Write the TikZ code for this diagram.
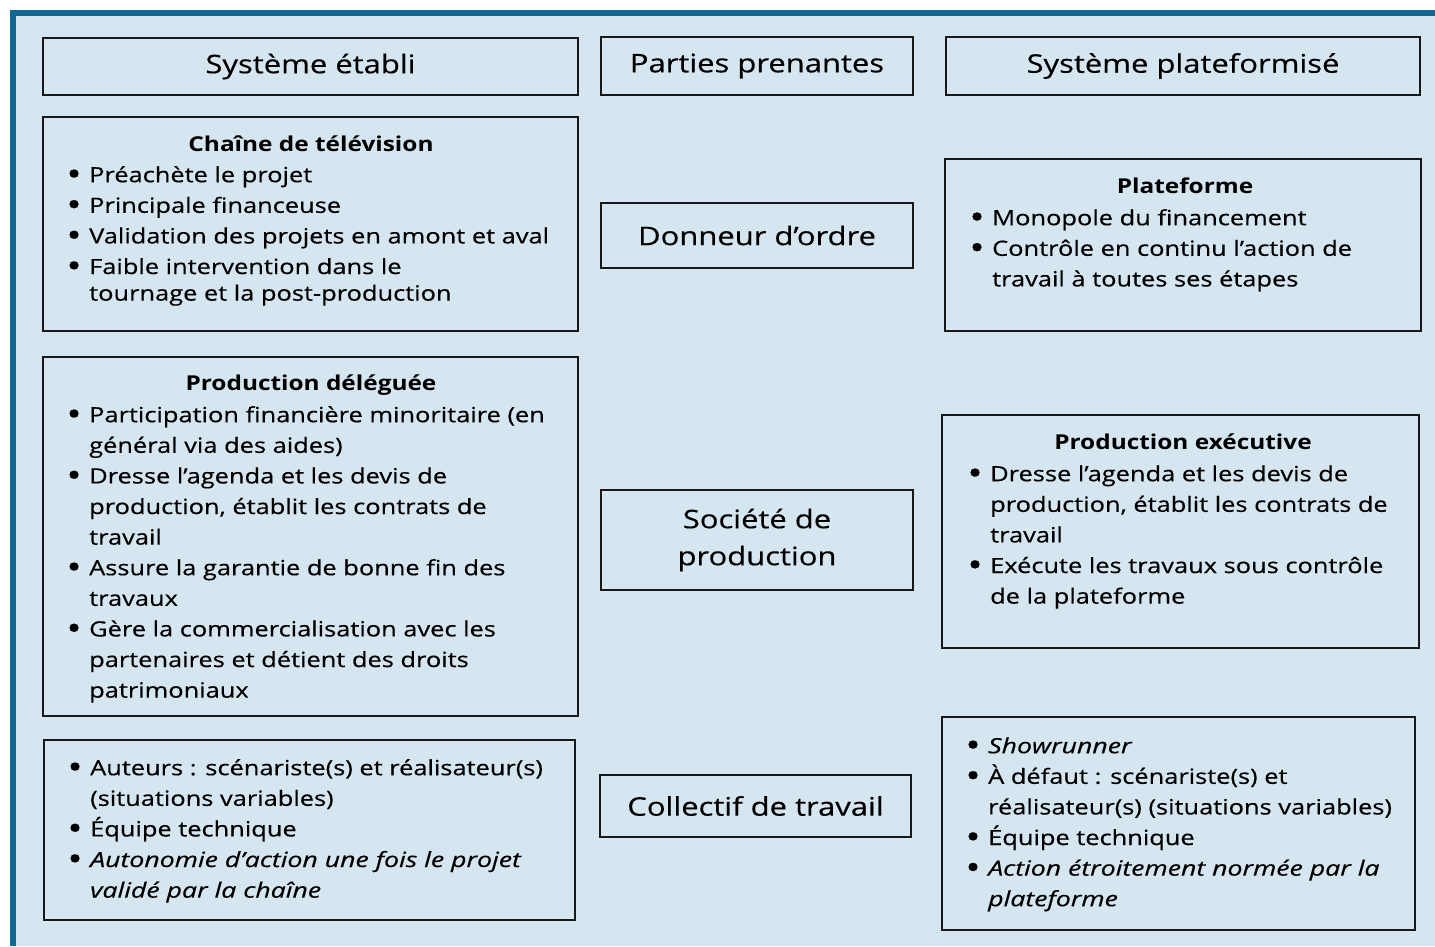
\documentclass[tikz,border=0pt]{standalone}
\usepackage{fontspec}
\setmainfont{Open Sans}[UprightFeatures={FakeStretch=1.21,FakeBold=0.4},
  BoldFeatures={FakeStretch=1.19},
  ItalicFeatures={FakeStretch=1.27,FakeBold=0.4}]
\usetikzlibrary{fit}
\definecolor{bgblue}{RGB}{214,230,240}
\definecolor{frameblue}{RGB}{16,104,148}
\newcommand\bul{\makebox[20pt][l]{\hspace*{-2.8pt}\raisebox{-3.6pt}{\scalebox{1.6}{\textbullet}}}}
\newcommand\ind{\hspace*{20pt}}
\begin{document}
\begin{tikzpicture}[x=1pt,y=-1pt,
  box/.style={draw=black!90, line width=1.4pt, fill=bgblue, inner sep=0pt},
  head/.style={font=\fontsize{25.6}{37}\selectfont, align=center, inner sep=0pt},
  ttl/.style={font=\fontsize{20.5}{30.6}\selectfont\bfseries, anchor=base, inner sep=0pt},
  lst/.style={font=\fontsize{21}{30.6}\selectfont, align=left, anchor=north west, inner sep=0pt},
]
\useasboundingbox (0,0) rectangle (1435,946);
\fill[white] (0,0) rectangle (1435,946);
\fill[frameblue] (10,10) rectangle (1435,946);
\fill[bgblue] (16,16) rectangle (1435,946);

% headers
\node[box, fit={(43,38) (578,95)}] (h1) {};
\node[head] (h1t) at (h1.center) {Système établi};
\node[box, fit={(601,37) (913,95)}] (h2) {};
\node[head] (h2t) at (h2.center) {Parties prenantes};
\node[box, fit={(946,37) (1420,95)}] (h3) {};
\node[head] (h3t) at (h3.center) {Système plateformisé};

% middle column
\node[box, fit={(601,203) (913,268)}] (donneur) {};
\node[head] (donneurt) at (donneur.center) {Donneur d’ordre};
\node[box, fit={(601,490) (913,590)}] (societe) {};
\node[head] (societet) at (societe.center) {Société de\\production};
\node[box, fit={(600,775) (911,837)}] (collectif) {};
\node[head] (collectift) at (collectif.center) {Collectif de travail};

% left column
\node[box, fit={(43,117) (578,331)}] (chaine) {};
\node[ttl] (chaineT) at (311,151) {Chaîne de télévision};
\node[lst] (chaineL) at (69,160.6) {\strut\bul Préachète le projet\\
\bul Principale financeuse\\
\bul Validation des projets en amont et aval\\
\bul Faible intervention dans le\\[-4pt]
\ind tournage et la post-production};

\node[box, fit={(43,357) (578,716)}] (deleg) {};
\node[ttl] (delegT) at (311,390) {Production déléguée};
\node[lst] (delegL) at (69,400.6) {\strut\bul Participation financière minoritaire (en\\
\ind général via des aides)\\
\bul Dresse l’agenda et les devis de\\
\ind production, établit les contrats de\\
\ind travail\\
\bul Assure la garantie de bonne fin des\\
\ind travaux\\
\bul Gère la commercialisation avec les\\
\ind partenaires et détient des droits\\
\ind patrimoniaux};

\node[box, fit={(44,740) (575,920)}] (collL) {};
\node[lst] (collLL) at (70,753.6) {\strut\bul Auteurs : scénariste(s) et réalisateur(s)\\
\ind (situations variables)\\
\bul Équipe technique\\
\bul \textit{Autonomie d’action une fois le projet}\\
\ind \textit{validé par la chaîne}};

% right column
\node[box, fit={(945,159) (1421,331)}] (plat) {};
\node[ttl] (platT) at (1185,193) {Plateforme};
\node[lst] (platL) at (972,203.6) {\strut\bul Monopole du financement\\
\bul Contrôle en continu l’action de\\
\ind travail à toutes ses étapes};

\node[box, fit={(942,415) (1419,648)}] (exec) {};
\node[ttl] (execT) at (1183,449) {Production exécutive};
\node[lst] (execL) at (970,459.6) {\strut\bul Dresse l’agenda et les devis de\\
\ind production, établit les contrats de\\
\ind travail\\
\bul Exécute les travaux sous contrôle\\
\ind de la plateforme};

\node[box, fit={(942,717) (1415,930)}] (collR) {};
\node[lst] (collRL) at (968,731.6) {\strut\bul \textit{Showrunner}\\
\bul À défaut : scénariste(s) et\\
\ind réalisateur(s) (situations variables)\\
\bul Équipe technique\\
\bul \textit{Action étroitement normée par la}\\
\ind \textit{plateforme}};
\end{tikzpicture}
\end{document}
